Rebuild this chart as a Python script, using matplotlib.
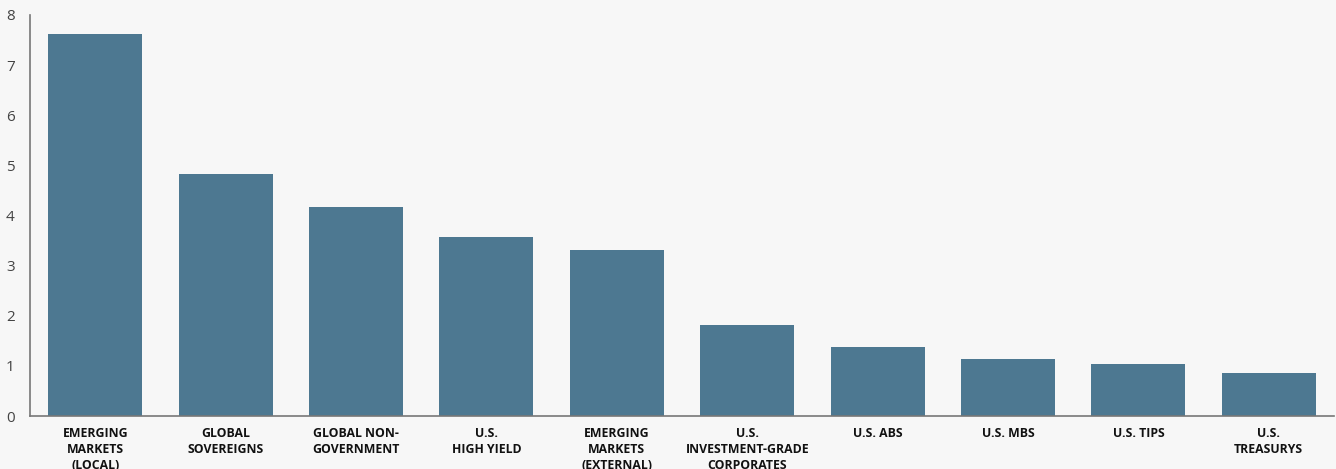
import matplotlib.pyplot as plt

categories = ['EMERGING\nMARKETS\n(LOCAL)', 'GLOBAL\nSOVEREIGNS', 'GLOBAL NON-\nGOVERNMENT',
              'U.S.\nHIGH YIELD', 'EMERGING\nMARKETS\n(EXTERNAL)', 'U.S.\nINVESTMENT-GRADE\nCORPORATES',
              'U.S. ABS', 'U.S. MBS', 'U.S. TIPS', 'U.S.\nTREASURYS']
values = [7.62, 4.83, 4.17, 3.57, 3.31, 1.82, 1.38, 1.14, 1.04, 0.86]
yticks = [0, 1, 2, 3, 4, 5, 6, 7, 8]

bg = '#f7f7f7'
fig = plt.figure(figsize=(13.36, 4.69), dpi=100, facecolor=bg)
ax = fig.add_axes([30/1336, 53/469, 1304/1336, 401/469], facecolor=bg)

x = range(len(categories))
ax.bar(x, values, width=0.72, color='#4d7891')

ax.set_xlim(-0.5, len(categories) - 0.5)
ax.set_ylim(0, 8)
ax.set_yticks(yticks)
ax.set_yticklabels([str(t) for t in yticks], fontsize=11, color='#444444', family='Open Sans')
ax.set_xticks(list(x))
ax.set_xticklabels(categories, fontsize=8.8, fontweight='bold', family='Open Sans',
                   color='#111111', linespacing=1.3)
ax.tick_params(axis='both', length=0)
ax.tick_params(axis='y', pad=11)
ax.tick_params(axis='x', pad=8)

for s in ['top', 'right']:
    ax.spines[s].set_visible(False)
ax.spines['left'].set_color('#777777')
ax.spines['bottom'].set_color('#777777')
ax.spines['left'].set_linewidth(1.2)
ax.spines['bottom'].set_linewidth(1.2)

fig.savefig('out.png', dpi=100, facecolor=bg)
